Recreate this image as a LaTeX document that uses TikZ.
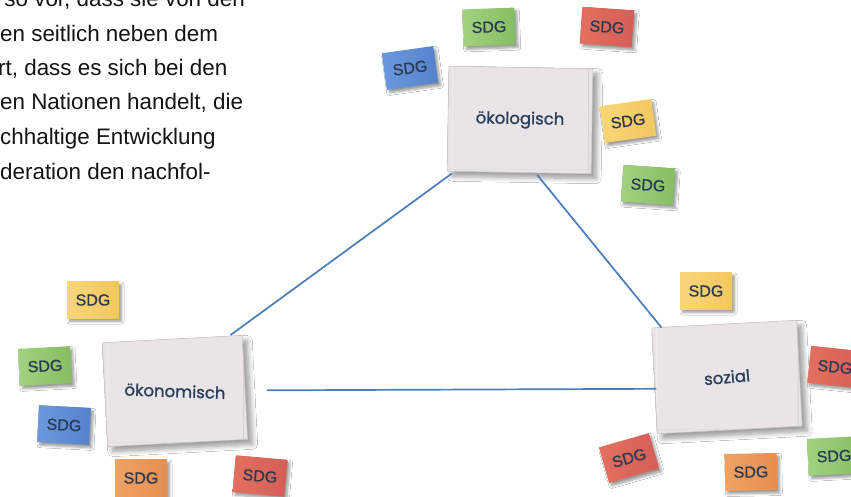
\documentclass[tikz,border=0pt]{standalone}
\usepackage{fontspec}
\setmainfont{Liberation Sans}
\newfontfamily\handfont{Poppins}[FakeBold=1.2]
\newfontfamily\sdgfont{Liberation Sans}[FakeBold=0.8]
\usetikzlibrary{shadows.blur,calc}
\definecolor{sdgtext}{HTML}{2A3A52}
\definecolor{cardtext}{HTML}{2A3F5E}
\definecolor{cardfill}{HTML}{E9E5E6}
\definecolor{cardedge}{HTML}{C9C5C6}
\definecolor{linkblue}{HTML}{4B7DB9}
\definecolor{gL}{HTML}{A2D27F}\definecolor{gR}{HTML}{86BD62}
\definecolor{rL}{HTML}{E2705F}\definecolor{rR}{HTML}{D45E56}
\definecolor{bL}{HTML}{6C98DC}\definecolor{bR}{HTML}{5582CC}
\definecolor{yL}{HTML}{F8D678}\definecolor{yR}{HTML}{F2C75E}
\definecolor{oL}{HTML}{F0A263}\definecolor{oR}{HTML}{E68E50}
\begin{document}
\begin{tikzpicture}[x=1pt,y=-1pt,
  sdg/.style={rectangle, minimum width=52pt, minimum height=37pt, inner sep=0pt,
    font=\sdgfont\fontsize{16}{16}\selectfont, text=sdgtext,
    blur shadow={shadow xshift=2.5pt, shadow yshift=-3pt, shadow blur steps=6, shadow blur radius=2.5pt}},
  sdggreen/.style={sdg, left color=gL, right color=gR},
  sdgred/.style={sdg, left color=rL, right color=rR},
  sdgblue/.style={sdg, left color=bL, right color=bR},
  sdgyellow/.style={sdg, left color=yL, right color=yR},
  sdgorange/.style={sdg, left color=oL, right color=oR},
  card/.style={rectangle, minimum width=144pt, minimum height=105pt, inner sep=0pt,
    fill=cardfill, draw=cardedge, line width=0.6pt,
    font=\handfont\fontsize{16.5}{16.5}\selectfont, text=cardtext,
    blur shadow={shadow xshift=5pt, shadow yshift=-5pt, shadow blur steps=8, shadow blur radius=5pt},
    path picture={
      \draw[white!85!gray, line width=1.2pt] ($(path picture bounding box.north west)+(5,0)$) -- ($(path picture bounding box.south west)+(5,0)$);
      \draw[gray!35, line width=1pt] ($(path picture bounding box.north east)+(-4,0)$) -- ($(path picture bounding box.south east)+(-4,0)$);
      \draw[gray!25, line width=1pt] ($(path picture bounding box.south west)+(0,-4)$) -- ($(path picture bounding box.south east)+(0,-4)$);
    }},
  link/.style={draw=linkblue, line width=1.7pt},
  para/.style={anchor=base west, inner sep=0pt, font=\fontsize{22.4}{22.4}\selectfont, text=black!92}
]
\useasboundingbox (0,0) rectangle (851,497);
\clip (0,0) rectangle (851,497);
\fill[white] (0,0) rectangle (851,497);

% paragraph fragment
\node[para, anchor=base east] (p1) at (245,7) {so vor, dass sie von den};
\node[para] (p2) at (0,42) {en seitlich neben dem};
\node[para] (p3) at (-2,76) {rt, dass es sich bei den};
\node[para] (p4) at (0,110) {en Nationen handelt, die};
\node[para] (p5) at (0,145) {chhaltige Entwicklung};
\node[para] (p6) at (0,180) {deration den nachfol-};

% cards
\node[card, rotate=-1] (oeko) at (520,120) {ökologisch};
\node[card, rotate=3, minimum width=140pt, minimum height=104pt] (oekon) at (175,391) {\rotatebox{-5}{ökonomisch}};
\node[card, rotate=3, minimum width=145pt, minimum height=106pt] (soz) at (727,377) {\rotatebox{2}{sozial}};

% connectors
\draw[link] ($(oeko.south west)+(5,2)$) -- ($(oekon.north east)+(-12,0)$);
\draw[link] ($(oeko.south)+(18,2)$) -- ($(soz.north west)+(10,0)$);
\draw[link] ($(oekon.east)+(22,3)$) -- ($(soz.west)+(2,8)$);

% SDG notes around ökologisch
\node[sdggreen, rotate=2] (n1) at (489,27) {SDG};
\node[sdgred, rotate=-4] (n2) at (607,27) {SDG};
\node[sdgblue, rotate=8] (n3) at (410,68) {SDG};
\node[sdgyellow, rotate=8] (n4) at (628,121) {SDG};
\node[sdggreen, rotate=-4] (n5) at (648,185) {SDG};
% around ökonomisch
\node[sdgyellow] (n6) at (93,300) {SDG};
\node[sdggreen, rotate=3] (n7) at (45,366) {SDG};
\node[sdgblue, rotate=-3] (n8) at (64,425) {SDG};
\node[sdgorange] (n9) at (141,478) {SDG};
\node[sdgred, rotate=-5] (n10) at (260,476) {SDG};
% around sozial
\node[sdgyellow] (n11) at (706,291) {SDG};
\node[sdgred, rotate=-6] (n12) at (835,367) {SDG};
\node[sdgred, rotate=16] (n13) at (629,458) {SDG};
\node[sdgorange, rotate=1] (n14) at (751,472) {SDG};
\node[sdggreen, rotate=3] (n15) at (834,456) {SDG};
\end{tikzpicture}
\end{document}
